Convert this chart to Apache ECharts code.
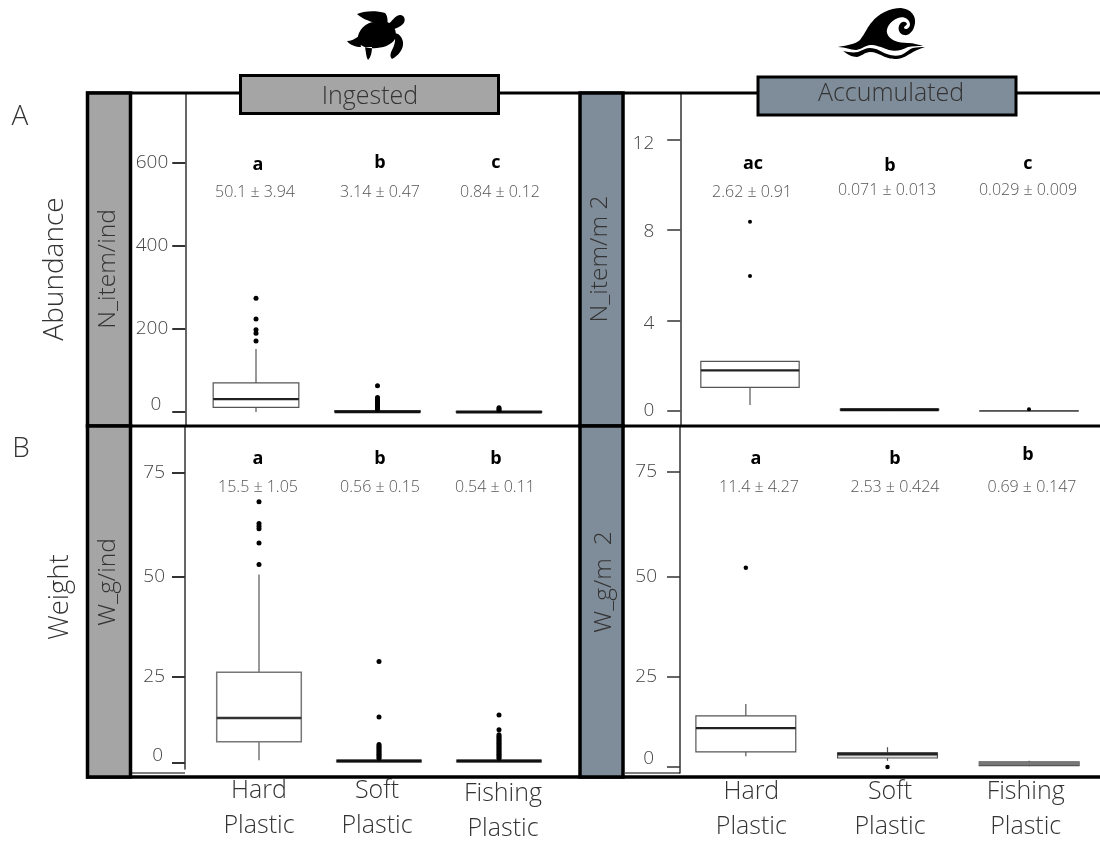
<!DOCTYPE html>
<html><head><meta charset="utf-8">
<style>html,body{margin:0;padding:0;background:#fff}#c{width:1100px;height:841px}</style>
<script src="https://cdn.jsdelivr.net/npm/echarts@6/dist/echarts.min.js"></script>
</head><body><div id="c"></div>
<script>
const categories = ['Hard Plastic', 'Soft Plastic', 'Fishing Plastic'];

// [low whisker, Q1, median, Q3, high whisker]
const ingestedAbundanceBoxes = [[0, 11, 31, 70, 152], [0, 0, 0.8, 3, 4], [0, 0, 0.3, 1, 2]];
const ingestedAbundanceOutliers = [[171, 190, 198, 224, 274], [6, 9, 12, 15, 18, 21, 24, 27, 31, 35, 63], [4, 7, 10]];
const accumulatedAbundanceBoxes = [[0.27, 1.05, 1.8, 2.2, 2.2], [0.04, 0.04, 0.06, 0.09, 0.1], [0, 0, 0.01, 0.02, 0.03]];
const accumulatedAbundanceOutliers = [[5.97, 8.37], [], [0.08]];
const ingestedWeightBoxes = [[0.6, 6, 12.9, 26, 50.5], [0.2, 0.2, 0.4, 0.6, 1], [0.2, 0.2, 0.4, 0.6, 1]];
const ingestedWeightOutliers = [
  [52.9, 58.1, 61.5, 62.1, 62.8, 68],
  [1.2, 1.6, 2, 2.4, 2.8, 3.2, 3.6, 4, 4.4, 4.8, 5.2, 13.2, 28.7],
  [1.2, 1.6, 2, 2.4, 2.8, 3.2, 3.6, 4, 4.4, 4.8, 5.2, 5.6, 6, 6.4, 6.8, 7.2, 7.6, 8, 9.5, 13.8]];
const accumulatedWeightBoxes = [[3, 4.2, 10.8, 14.2, 17.5], [1.7, 2.5, 3.6, 3.9, 5.5], [0.2, 0.4, 1, 1.4, 1.7]];
const accumulatedWeightOutliers = [[52.2], [0], []];

const abundanceTicksIngested = [0, 200, 400, 600];
const abundanceTicksAccumulated = [0, 4, 8, 12];
const weightTicks = [0, 25, 50, 75];

const letters = {
  ia: ['a', 'b', 'c'], aa: ['ac', 'b', 'c'], iw: ['a', 'b', 'b'], aw: ['a', 'b', 'b']
};
const means = {
  ia: ['50.1 ± 3.94', '3.14 ± 0.47', '0.84 ± 0.12'],
  aa: ['2.62 ± 0.91', '0.071 ± 0.013', '0.029 ± 0.009'],
  iw: ['15.5 ± 1.05', '0.56 ± 0.15', '0.54 ± 0.11'],
  aw: ['11.4 ± 4.27', '2.53 ± 0.424', '0.69 ± 0.147']
};

const FONT = '"Open Sans"';
// the weight axes of the figure are not evenly spaced: [tick value, height on a linear plotting scale]
function stretch(stops) {
  return v => {
    for (let i = 1; i < stops.length; i++) {
      if (v <= stops[i][0]) {
        const a = stops[i - 1], b = stops[i];
        return +(a[1] + (v - a[0]) * (b[1] - a[1]) / (b[0] - a[0])).toFixed(3);
      }
    }
    return v;
  };
}
const same = v => v;
const panels = [
  { key: 'ia', boxes: ingestedAbundanceBoxes, out: ingestedAbundanceOutliers, ticks: abundanceTicksIngested,
    map: same, left: 195.25, band: 121.5, top: 93, bottom: 426, offset: 10, min: -33.7, max: 768.7,
    box: '#555', bw: 1.2, medW: [2.2, 3, 3], medC: ['#222', '#111', '#111'], tick: 2, dot: 5,
    margins: {0: [0, 7, 14, 0]}, margin: 17, xlabels: false },
  { key: 'aa', boxes: accumulatedAbundanceBoxes, out: accumulatedAbundanceOutliers, ticks: abundanceTicksAccumulated,
    map: same, left: 680.25, band: 139.5, top: 93, bottom: 426, offset: 0, min: -0.66, max: 14.07,
    box: '#555', bw: 1.2, medW: [2.2, 3, 1], medC: ['#222', '#111', '#555'], tick: 1.5, dot: 4,
    margins: {12: [8, 0, 0, 0], 8: [3, 0, 0, 0], 4: [5, 0, 0, 0]}, margin: 26, xlabels: false },
  { key: 'iw', boxes: ingestedWeightBoxes, out: ingestedWeightOutliers, ticks: weightTicks,
    map: stretch([[-10, -10], [0, 0], [25, 22.3], [50, 48.1], [75, 75], [200, 200]]),
    left: 199, band: 120, top: 426, bottom: 773, offset: 14, min: -1.7, max: 87.1,
    box: '#777', bw: 1.5, medW: [2.5, 3, 3], medC: ['#333', '#111', '#111'], tick: 2, dot: 5,
    margins: {0: [0, 2, 14, 0]}, margin: 20, xlabels: true, xmargin: 4, xshift: [0, -4, 8], xdown: [0, 0, 3] },
  { key: 'aw', boxes: accumulatedWeightBoxes, out: accumulatedWeightOutliers, ticks: weightTicks,
    map: stretch([[-10, -10], [0, 0], [25, 22.9], [50, 48.3], [75, 75], [200, 200]]),
    left: 675, band: 145, top: 426, bottom: 773, offset: -5, min: -1.53, max: 86.7,
    box: '#555', bw: 1.2, medW: [2.2, 2.8, 3], medC: ['#222', '#222', '#777'], fill: ['#fff', '#ddd', '#999'], tick: 1.5, dot: 4.5,
    margins: {0: [0, 3, 16, 0]}, margin: 23, xlabels: true, xmargin: 1, xshift: [11, 5, -7], xdown: [0, 0, 0] }
];

function renderBox(p) {
  return function (params, api) {
    const i = api.value(0);
    const pt = k => api.coord([i, api.value(k)]);
    const half = api.size([1, 0])[0] * 0.705 / 2;
    const [xc, yLow] = pt(1), yQ1 = pt(2)[1], yMed = pt(3)[1], yQ3 = pt(4)[1], yHigh = pt(5)[1];
    const stroke = { stroke: p.box, lineWidth: p.bw };
    return { type: 'group', children: [
      { type: 'line', shape: { x1: xc, y1: yLow, x2: xc, y2: yQ1 }, style: stroke },
      { type: 'line', shape: { x1: xc, y1: yQ3, x2: xc, y2: yHigh }, style: stroke },
      { type: 'rect', shape: { x: xc - half, y: yQ3, width: half * 2, height: yQ1 - yQ3 },
        style: { fill: p.fill ? p.fill[i] : '#fff', stroke: p.box, lineWidth: p.bw } },
      { type: 'line', shape: { x1: xc - half, y1: yMed, x2: xc + half, y2: yMed },
        style: { stroke: p.medC[i], lineWidth: p.medW[i] } }
    ] };
  };
}

const grid = [], xAxis = [], yAxis = [], series = [];
panels.forEach((p, n) => {
  grid.push({ left: p.left, top: p.top, width: p.band * 3, height: p.bottom - p.top });
  const rich = {};
  categories.forEach((c, i) => {
    const s = p.xshift ? p.xshift[i] : 0, d = p.xdown ? p.xdown[i] : 0;
    rich['f' + i] = { fontFamily: FONT, fontWeight: 300, fontSize: 25, color: '#333', lineHeight: 35,
      padding: [d * 2, s < 0 ? -s : 0, 0, s > 0 ? s : 0] };
    rich['g' + i] = { fontFamily: FONT, fontWeight: 300, fontSize: 25, color: '#333', lineHeight: 35,
      padding: [d * 2, s < 0 ? -s : 0, 0, s > 0 ? s : 0] };
  });
  xAxis.push({ gridIndex: n, type: 'category', data: categories,
    axisLine: { show: false, onZero: false }, axisTick: { show: false }, splitLine: { show: false },
    axisLabel: p.xlabels ? { show: true, margin: p.xmargin, interval: 0, rich,
      formatter: (v, i) => { const w = v.split(' '); return `{f${i}|${w[0]}}\n{g${i}|${w[1]}}`; } } : { show: false } });
  const pos = p.ticks.map(p.map);
  const axisRich = { n: { fontFamily: FONT, fontWeight: 300, fontSize: 19, color: '#444' } };
  Object.keys(p.margins).forEach(k => {
    axisRich['m' + k] = { fontFamily: FONT, fontWeight: 300, fontSize: 19, color: '#444', padding: p.margins[k] };
  });
  yAxis.push({ gridIndex: n, type: 'value', min: p.min, max: p.max, offset: p.offset,
    splitLine: { show: false },
    axisLine: { show: true, lineStyle: { color: '#333', width: 1.5 } },
    axisTick: { show: true, length: 13, customValues: pos, lineStyle: { color: '#333', width: p.tick } },
    axisLabel: { margin: p.margin, customValues: pos, rich: axisRich, hideOverlap: false,
      formatter: v => {
        const t = p.ticks[pos.findIndex(x => Math.abs(x - v) < 1e-6)];
        return p.margins[t] ? `{m${t}|${t}}` : `{n|${t}}`;
      } } });
  series.push({ type: 'custom', name: p.key + ' boxes', xAxisIndex: n, yAxisIndex: n, clip: false, z: 3,
    renderItem: renderBox(p), encode: { x: 0, y: [1, 2, 3, 4, 5] },
    data: p.boxes.map((b, i) => [i].concat(b.map(p.map))) });
  const pts = [];
  p.out.forEach((list, i) => list.forEach(v => pts.push([i, p.map(v)])));
  series.push({ type: 'scatter', name: p.key + ' outliers', xAxisIndex: n, yAxisIndex: n, symbolSize: p.dot, z: 4,
    itemStyle: { color: '#000', opacity: 1 }, data: pts });
});

const txt = (text, x, y, size, o) => ({ type: 'text', x, y, silent: true, z: 30, rotation: (o && o.rot) || 0,
  style: { text, fontFamily: FONT, fontWeight: (o && o.w) || 300, fontSize: size, fill: (o && o.c) || '#333', align: 'center', verticalAlign: 'middle' } });
const hline = (y, x1, x2, w) => ({ type: 'line', silent: true, z: 10, shape: { x1, y1: y, x2, y2: y }, style: { stroke: '#000', lineWidth: w } });
const rect = (x, y, w, h, fill, lw) => ({ type: 'rect', silent: true, z: 12, shape: { x, y, width: w, height: h }, style: { fill, stroke: '#000', lineWidth: lw } });

const GREY = '#a5a5a5', SLATE = '#7f8c99';
const turtle = 'M357 14C363 11 376 10 385 13C388 16 388 22 387 26L372 22C366 20 360 17 357 14Z'
  + 'M358 36C360 26 372 19 384 21C394 23 398 32 395 39C391 46 380 49 370 48C361 47 356 43 358 36Z'
  + 'M388 24C392 22 394 16 400 15C405 15 406 21 403 24C400 27 396 28 392 30Z'
  + 'M347 41C351 41 355 39 359 36L361 47C356 47 350 45 347 41Z'
  + 'M365 47C366 52 366 57 368 60C371 57 372 52 372 47Z'
  + 'M394 33C399 33 402 37 403 42C404 49 398 56 392 59C389 56 391 52 393 48C395 44 396 38 394 33Z';
const wave = 'M838 47C848 45 856 44 860 40C866 32 868 26 872 22C878 14 890 8 901 8C911 9 916 16 915 23C914 32 908 36 904 35C899 34 897 28 900 24C902 21 906 21 907 24C906 26 904 26 904 28C905 30 910 29 910 24C909 18 903 16 898 18C890 21 886 28 887 33C889 40 898 43 908 43C914 43 919 45 923 46C917 46 912 46 908 47C902 50 896 52 889 50C881 47 876 45 870 45C864 46 860 50 856 50C850 50 846 47 838 47Z'
  + 'M843 51C848 52 853 53 858 52C863 50 866 48 870 48C877 48 881 52 887 54C892 56 897 56 901 55C906 53 909 49 913 48C917 47 921 47 925 47C921 48 917 50 913 52C908 55 902 59 897 59C891 59 888 58 885 57C879 54 875 52 870 52C865 52 862 56 857 57C852 57 847 54 843 51Z';

series.push({ type: 'custom', name: 'icons', coordinateSystem: 'none', silent: true, z: 20, data: [0],
  renderItem: () => ({ type: 'group', children: [turtle, wave].map(d => ({ type: 'path', shape: { pathData: d }, style: { fill: '#000' } })) }) });

const graphic = [
  hline(93, 86, 1100, 3), hline(426, 86, 1100, 3), hline(777, 86, 1100, 3.5),
  hline(773, 131, 185, 1.2), hline(773, 625, 680, 1.2),
  rect(87.5, 93, 43, 333, GREY, 3.5), rect(87.5, 426, 43, 351, GREY, 3.5),
  rect(580, 93, 43, 333, SLATE, 3.5), rect(580, 426, 43, 351, SLATE, 3.5),
  rect(240.5, 75.5, 258, 38, GREY, 3), rect(758, 77, 258, 38, SLATE, 3),
  txt('Ingested', 370, 97, 25), txt('Accumulated', 891, 94, 25),
  txt('A', 20, 117, 28), txt('B', 21, 449, 28),
  txt('Abundance', 55, 269, 28, { rot: Math.PI / 2 }),
  txt('Weight', 60, 597, 27.5, { rot: Math.PI / 2 }),
  txt('N_item/ind', 108, 269, 24.5, { rot: Math.PI / 2 }),
  txt('W_g/ind', 108, 582, 24.5, { rot: Math.PI / 2 }),
  txt('N_item/m 2', 600, 259, 24.5, { rot: Math.PI / 2 }),
  txt('W_g/m  2', 604, 582, 24.5, { rot: Math.PI / 2 })
];
const letterPos = {
  ia: [[258, 165], [380, 163], [496, 163]], aa: [[753, 164], [890, 166], [1028, 164]],
  iw: [[258, 459], [380, 459], [496, 459]], aw: [[756, 459], [895, 459], [1028, 455]]
};
const meanPos = {
  ia: [[255, 192], [380, 192], [500, 192]], aa: [[752, 192], [887, 190], [1028, 190]],
  iw: [[258, 487], [380, 487], [495, 487]], aw: [[759, 487], [895, 487], [1032, 487]]
};
Object.keys(letters).forEach(k => letters[k].forEach((t, i) => {
  graphic.push(txt(t, letterPos[k][i][0], letterPos[k][i][1], 18, { w: 700, c: '#000' }));
  graphic.push(txt(means[k][i], meanPos[k][i][0], meanPos[k][i][1], 16, { c: '#555', w: 300 }));
}));

const chart = echarts.init(document.getElementById('c'), null, { renderer: 'canvas' });
chart.setOption({ animation: false, backgroundColor: '#fff', grid, xAxis, yAxis, series, graphic: { elements: graphic } });
</script></body></html>
